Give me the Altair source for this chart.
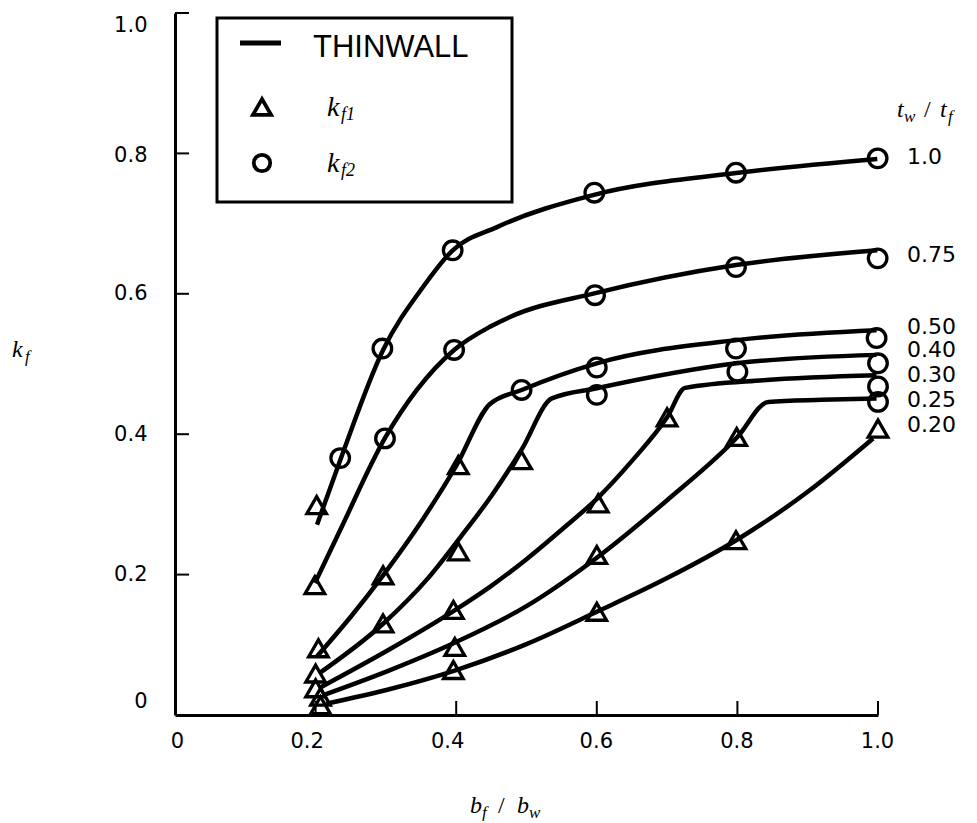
import altair as alt
import pandas as pd

# ---------------- data ----------------
ratios = ["1.0", "0.75", "0.50", "0.40", "0.30", "0.25", "0.20"]

# THINWALL curves (x = bf/bw, y = kf)
thin_10_x = [0.202, 0.235, 0.296, 0.353, 0.395, 0.458, 0.596, 0.798, 0.999]
thin_10_y = [0.271, 0.363, 0.520, 0.610, 0.662, 0.695, 0.741, 0.772, 0.792]
thin_075_x = [0.199, 0.235, 0.299, 0.344, 0.397, 0.448, 0.4765, 0.598, 0.798, 0.999]
thin_075_y = [0.188, 0.2635, 0.395, 0.463, 0.520, 0.553, 0.567, 0.601, 0.641, 0.662]
thin_050_x = [0.2015, 0.25, 0.296, 0.35, 0.40, 0.448, 0.493, 0.600, 0.799, 0.998]
thin_050_y = [0.083, 0.140, 0.199, 0.275, 0.355, 0.443, 0.463, 0.501, 0.534, 0.548]
thin_040_x = [0.206, 0.296, 0.36, 0.405, 0.45, 0.493, 0.536, 0.600, 0.799, 0.998]
thin_040_y = [0.060, 0.130, 0.195, 0.252, 0.312, 0.378, 0.451, 0.4655, 0.501, 0.513]
thin_030_x = [0.208, 0.306, 0.396, 0.45, 0.50, 0.55, 0.60, 0.65, 0.70, 0.7255, 0.837, 0.998]
thin_030_y = [0.040, 0.094, 0.148, 0.184, 0.222, 0.264, 0.308, 0.362, 0.424, 0.466, 0.477, 0.484]
thin_025_x = [0.210, 0.306, 0.40, 0.50, 0.60, 0.70, 0.80, 0.844, 0.92, 0.998]
thin_025_y = [0.028, 0.064, 0.104, 0.155, 0.224, 0.306, 0.396, 0.446, 0.449, 0.451]
thin_020_x = [0.215, 0.306, 0.40, 0.50, 0.60, 0.70, 0.80, 0.90, 0.993]
thin_020_y = [0.016, 0.037, 0.064, 0.101, 0.147, 0.195, 0.250, 0.318, 0.394]

# k_f1 (triangles)
kf1_10_x, kf1_10_y = [0.2015], [0.299]
kf1_075_x, kf1_075_y = [0.199], [0.185]
kf1_050_x, kf1_050_y = [0.204, 0.296, 0.403], [0.095, 0.199, 0.356]
kf1_040_x, kf1_040_y = [0.200, 0.296, 0.403, 0.493], [0.059, 0.1305, 0.233, 0.363]
kf1_030_x, kf1_030_y = [0.200, 0.396, 0.602, 0.700], [0.038, 0.1496, 0.3015, 0.424]
kf1_025_x, kf1_025_y = [0.207, 0.398, 0.600, 0.799], [0.026, 0.097, 0.228, 0.396]
kf1_020_x, kf1_020_y = [0.207, 0.396, 0.600, 0.798, 1.000], [0.014, 0.064, 0.147, 0.249, 0.408]

# k_f2 (circles)
kf2_10_x = [0.235, 0.295, 0.395, 0.5965, 0.798, 0.9995]
kf2_10_y = [0.366, 0.522, 0.662, 0.744, 0.7725, 0.793]
kf2_075_x = [0.2987, 0.397, 0.5975, 0.798, 0.9995]
kf2_075_y = [0.394, 0.520, 0.598, 0.638, 0.6505]
kf2_050_x, kf2_050_y = [0.493, 0.600, 0.798, 0.998], [0.463, 0.495, 0.522, 0.537]
kf2_040_x, kf2_040_y = [0.600, 0.800, 1.000], [0.456, 0.489, 0.501]
kf2_030_x, kf2_030_y = [1.000], [0.468]
kf2_025_x, kf2_025_y = [1.000], [0.446]

# curve labels (tw/tf) at the right end
label_text = ["1.0", "0.75", "0.50", "0.40", "0.30", "0.25", "0.20"]
label_y = [0.795, 0.655, 0.553, 0.520, 0.484, 0.449, 0.413]
label_x = [1.0] * 7

x_ticks = [0.2, 0.4, 0.6, 0.8, 1.0]
y_ticks = [0.2, 0.4, 0.6, 0.8, 1.0]
axis_values = [0.0, 0.2, 0.4, 0.6, 0.8, 1.0]

# ---------------- tables ----------------
thin = [("1.0", thin_10_x, thin_10_y), ("0.75", thin_075_x, thin_075_y),
        ("0.50", thin_050_x, thin_050_y), ("0.40", thin_040_x, thin_040_y),
        ("0.30", thin_030_x, thin_030_y), ("0.25", thin_025_x, thin_025_y),
        ("0.20", thin_020_x, thin_020_y)]
lines_df = pd.DataFrame([{"r": r, "x": a, "y": b} for r, xs_, ys_ in thin for a, b in zip(xs_, ys_)])

kf1 = [("1.0", kf1_10_x, kf1_10_y), ("0.75", kf1_075_x, kf1_075_y),
       ("0.50", kf1_050_x, kf1_050_y), ("0.40", kf1_040_x, kf1_040_y),
       ("0.30", kf1_030_x, kf1_030_y), ("0.25", kf1_025_x, kf1_025_y),
       ("0.20", kf1_020_x, kf1_020_y)]
tri_df = pd.DataFrame([{"r": r, "x": a, "y": b} for r, xs_, ys_ in kf1 for a, b in zip(xs_, ys_)])

kf2 = [("1.0", kf2_10_x, kf2_10_y), ("0.75", kf2_075_x, kf2_075_y),
       ("0.50", kf2_050_x, kf2_050_y), ("0.40", kf2_040_x, kf2_040_y),
       ("0.30", kf2_030_x, kf2_030_y), ("0.25", kf2_025_x, kf2_025_y)]
cir_df = pd.DataFrame([{"r": r, "x": a, "y": b} for r, xs_, ys_ in kf2 for a, b in zip(xs_, ys_)])

lab_df = pd.DataFrame({"x": label_x, "y": label_y, "t": label_text})

W, H = 703, 702
TICK_FONT = "DejaVu Sans"
SERIF = "Liberation Serif"

xs = alt.Scale(domain=[0, 1], nice=False, zero=False)
ys = alt.Scale(domain=[0, 1], nice=False, zero=False)

LABEL_EXPR = "datum.value == 0 ? '0' : format(datum.value, '.1f')"
common = dict(values=axis_values, title=None, labelExpr=LABEL_EXPR, ticks=False, grid=False,
              domainColor="black", domainWidth=3, labelFont=TICK_FONT, labelFontSize=21,
              labelColor="black", labelOverlap=False, labelFlush=False)
x_axis = alt.Axis(labelPadding=15,
                  labelOffset={"expr": "datum.value == 0.2 || datum.value == 0.4 ? -9 : (datum.value == 0 ? 2 : -1)"},
                  **common)
y_axis = alt.Axis(labelPadding=28,
                  labelOffset={"expr": "datum.value == 1 ? 12 : (datum.value == 0 ? -14 : (datum.value == 0.8 ? 2 : 0))"},
                  **common)


def X(field):
    return alt.X(field, scale=xs, axis=x_axis)


def Y(field):
    return alt.Y(field, scale=ys, axis=y_axis)


lines = alt.Chart(lines_df).mark_line(color="black", strokeWidth=4.5, interpolate="monotone").encode(
    x=X("x:Q"), y=Y("y:Q"), detail="r:N")

tris = alt.Chart(tri_df).mark_point(shape="triangle-up", size=380, filled=False, color="black",
                                    strokeWidth=3.3, opacity=1).encode(x=X("x:Q"), y=Y("y:Q"))
circs = alt.Chart(cir_df).mark_point(shape="circle", size=345, filled=False, color="black",
                                     strokeWidth=3.3, opacity=1).encode(x=X("x:Q"), y=Y("y:Q"))

labels = alt.Chart(lab_df).mark_text(align="left", baseline="middle", dx=29, font=TICK_FONT,
                                     fontSize=22, color="black").encode(
    x=X("x:Q"), y=Y("y:Q"), text="t:N")

xt = alt.Chart(pd.DataFrame({"v": x_ticks})).mark_rule(color="black", strokeWidth=2).encode(
    x=X("v:Q"), y=alt.value(H), y2=alt.value(H - 14))
yt = alt.Chart(pd.DataFrame({"v": y_ticks})).mark_rule(color="black", strokeWidth=2).encode(
    y=Y("v:Q"), x=alt.value(0), x2=alt.value(14))

one = pd.DataFrame({"a": [0]})


def txt(s, x, y, size, font, style="normal", align="left", baseline="alphabetic"):
    return alt.Chart(one).mark_text(text=s, align=align, baseline=baseline, font=font,
                                    fontSize=size, fontStyle=style, color="black").encode(
        x=alt.value(x), y=alt.value(y))


# legend box
box = alt.Chart(one).mark_rect(fillOpacity=0, stroke="black", strokeWidth=3).encode(
    x=alt.value(42), x2=alt.value(337), y=alt.value(5), y2=alt.value(189))
leg_line = alt.Chart(one).mark_rule(color="black", strokeWidth=5).encode(
    x=alt.value(65), x2=alt.value(106), y=alt.value(30))
leg_tri = alt.Chart(one).mark_point(shape="triangle-up", size=330, filled=False, color="black",
                                    strokeWidth=3.8, opacity=1).encode(x=alt.value(87), y=alt.value(94))
leg_cir = alt.Chart(one).mark_point(shape="circle", size=270, filled=False, color="black",
                                    strokeWidth=3.8, opacity=1).encode(x=alt.value(87), y=alt.value(150))

texts = [
    txt("THINWALL", 138, 35, 31, "Liberation Sans", baseline="middle"),
    txt("k", 152, 103, 28, SERIF, "italic"),
    txt("f1", 166, 107, 18, SERIF, "italic"),
    txt("k", 152, 159, 28, SERIF, "italic"),
    txt("f2", 166, 163, 18, SERIF, "italic"),
    # y title
    txt("k", -163, 344, 24, SERIF, "italic"),
    txt("f", -150, 349, 17, SERIF, "italic"),
    # x title
    txt("b", 295, 800, 24, SERIF, "italic"),
    txt("f", 307, 805, 17, SERIF, "italic"),
    txt("/", 323, 800, 24, SERIF),
    txt("b", 342, 800, 24, SERIF, "italic"),
    txt("w", 354, 805, 17, SERIF, "italic"),
    # right title tw / tf
    txt("t", 722, 104, 24, SERIF, "italic"),
    txt("w", 729, 109, 17, SERIF, "italic"),
    txt("/", 749, 104, 24, SERIF),
    txt("t", 765, 104, 24, SERIF, "italic"),
    txt("f", 773, 109, 17, SERIF, "italic"),
]

chart = alt.layer(lines, tris, circs, labels, xt, yt, box, leg_line, leg_tri, leg_cir, *texts).properties(
    width=W, height=H,
    autosize=alt.AutoSizeParams(type="none"),
    padding={"left": 167, "top": 5, "right": 89, "bottom": 106},
).configure_view(stroke=None)

chart.save("out.html", embed_options={"renderer": "svg", "actions": False})
